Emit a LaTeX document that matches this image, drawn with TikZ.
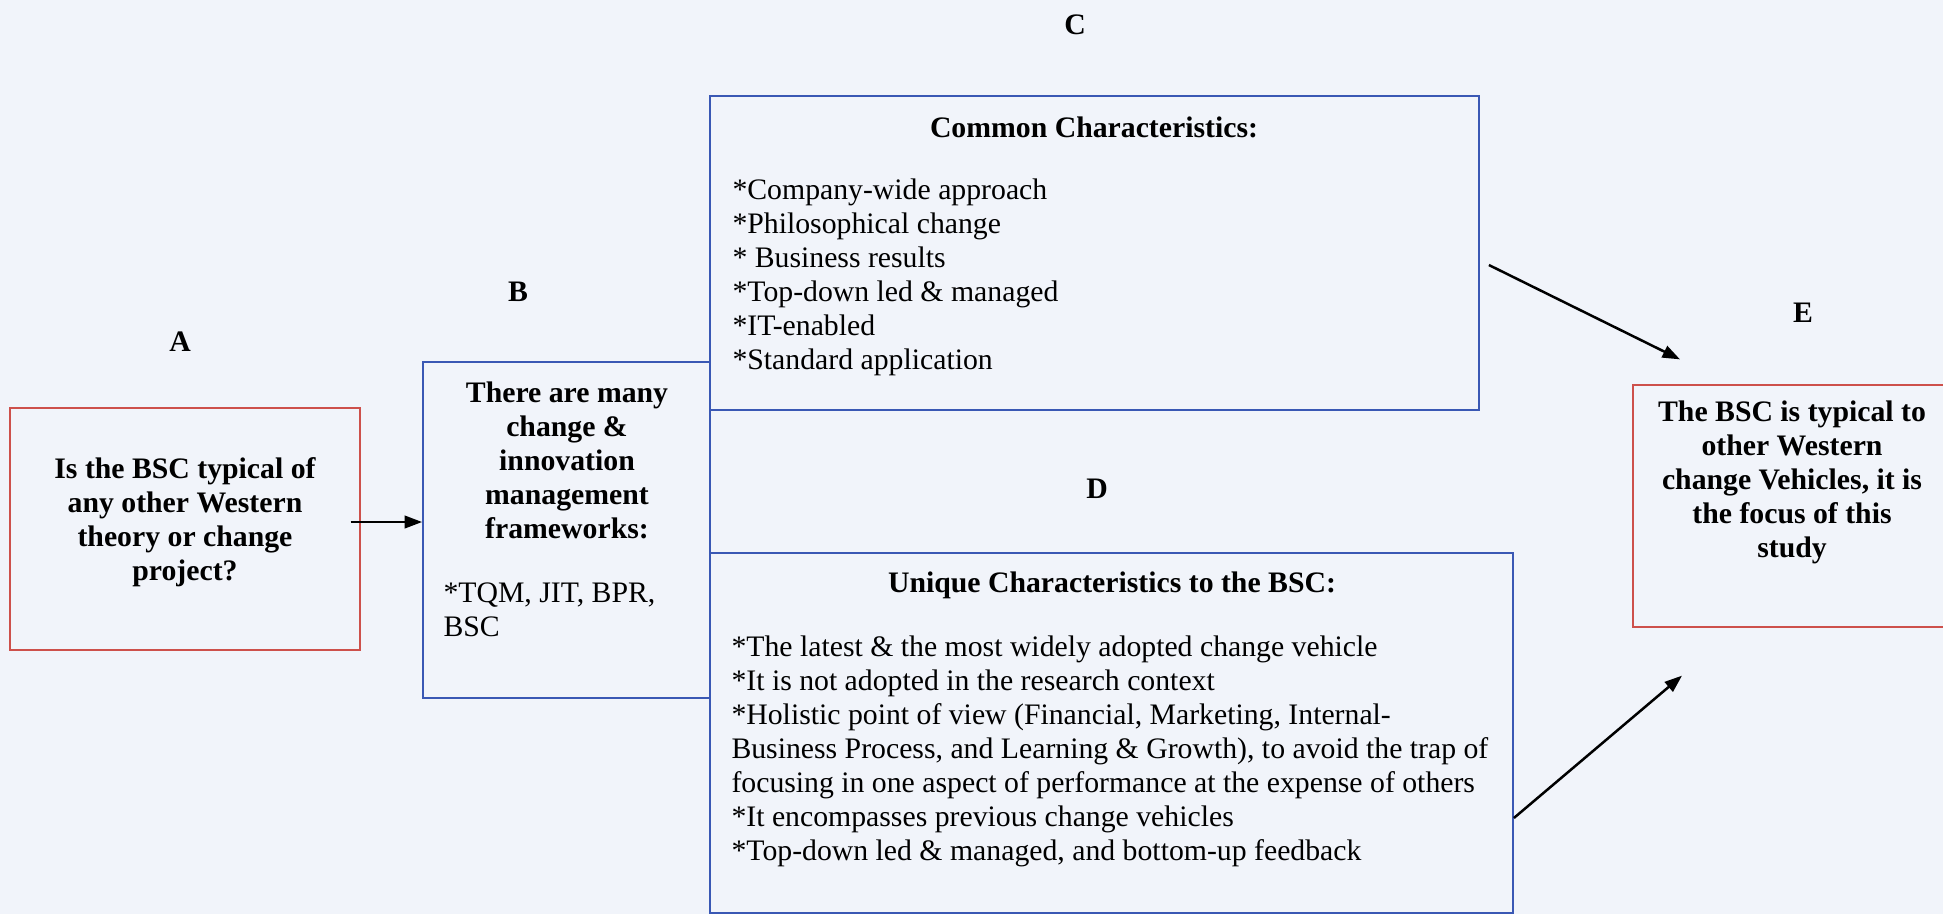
\documentclass[tikz,border=0pt]{standalone}
\usepackage{fontspec}
\setmainfont{Liberation Serif}
\usetikzlibrary{arrows.meta,fit}
\definecolor{bgc}{RGB}{241,244,250}
\definecolor{boxblue}{RGB}{58,88,180}
\definecolor{boxred}{RGB}{205,80,75}
\begin{document}
\begin{tikzpicture}[x=0.4pt,y=-0.4pt,
  every node/.style={font=\fontsize{11.9}{13.6}\selectfont},
  bluebox/.style={draw=boxblue,line width=0.7pt,inner sep=0pt},
  redbox/.style={draw=boxred,line width=0.5pt,inner sep=0pt},
  txt/.style={inner sep=0pt},
  btxt/.style={inner sep=0pt,font=\fontsize{11.9}{13.6}\selectfont\bfseries},
  arr/.style={line width=1pt,-{Triangle[length=7pt,width=5pt]}}]
\fill[bgc] (0,0) rectangle (1943,914);
\useasboundingbox (0,0) rectangle (1943,914);

% boxes
\node[redbox,fit={(10,408) (360,650)}] (A) {};
\node[bluebox,fit={(423,362) (710,698)}] (B) {};
\node[bluebox,fit={(710,96) (1479,410)}] (C) {};
\node[bluebox,fit={(710,553) (1513,913)}] (D) {};
\node[redbox,fit={(1633,385) (1951,627)}] (E) {};

% labels
\node[btxt] (lA) at (180,342) {A};
\node[btxt] (lB) at (518,292) {B};
\node[btxt] (lC) at (1075,25) {C};
\node[btxt] (lD) at (1097,489) {D};
\node[btxt] (lE) at (1803,313) {E};

% texts
\node[btxt,align=center] (tA) at (185,522) {Is the BSC typical of\\any other Western\\theory or change\\project?};
\node[btxt,align=center] (tB) at (567,460) {There are many\\change \&\\innovation\\management\\frameworks:};
\node[txt,align=left,anchor=west] (tB2) at (443,610) {*TQM, JIT, BPR,\\BSC};
\node[btxt] (tC) at (1094,127) {Common Characteristics:};
\node[txt,align=left,anchor=west] (tC2) at (732,277) {*Company-wide approach\\*Philosophical change\\* Business results\\*Top-down led \& managed\\*IT-enabled\\*Standard application};
\node[btxt] (tD) at (1112,585) {Unique Characteristics to the BSC:};
\node[txt,align=left,anchor=west] (tD2) at (731,751) {*The latest \& the most widely adopted change vehicle\\*It is not adopted in the research context\\*Holistic point of view (Financial, Marketing, Internal-\\Business Process, and Learning \& Growth), to avoid the trap of\\focusing in one aspect of performance at the expense of others\\*It encompasses previous change vehicles\\*Top-down led \& managed, and bottom-up feedback};
\node[btxt,align=center] (tE) at (1792,482) {The BSC is typical to\\other Western\\change Vehicles, it is\\the focus of this\\study};

% connectors
\draw[arr] ([shift={(-10,-7)}]A.east) -- ([shift={(0,-8)}]B.west);
\draw[arr] ([shift={(9,12)}]C.east) -- ([shift={(-112,-25)}]E.north);
\draw[arr] ([shift={(0,85)}]D.east) -- ([shift={(-110,48)}]E.south);
\end{tikzpicture}
\end{document}
